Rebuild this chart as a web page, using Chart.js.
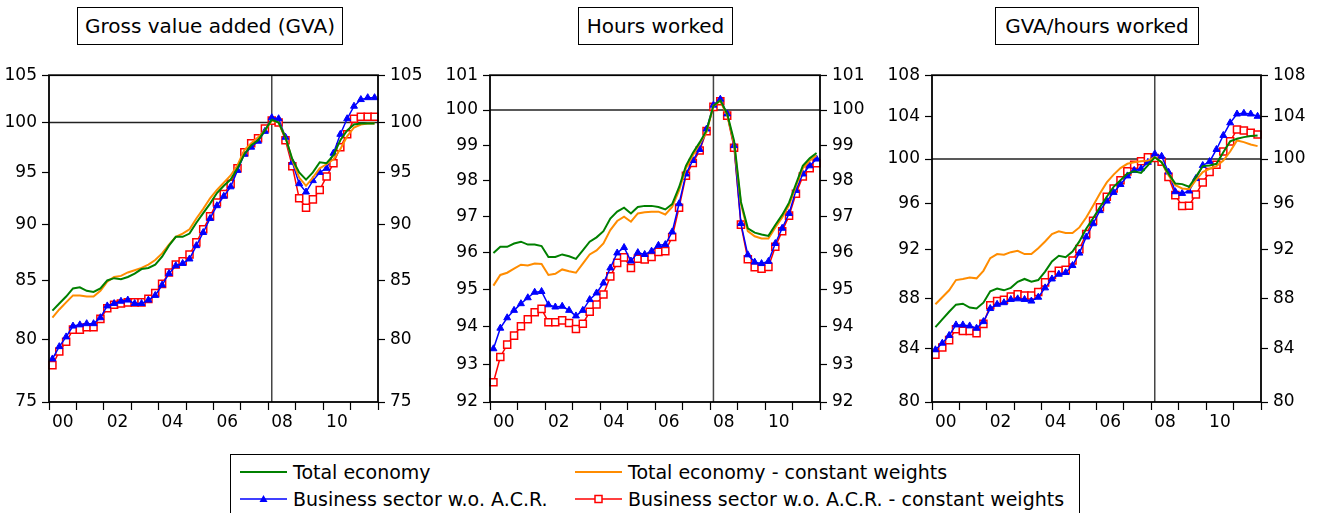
<!DOCTYPE html>
<html>
<head>
<meta charset="utf-8">
<script src="https://cdn.jsdelivr.net/npm/chart.js@4.4.1/dist/chart.umd.min.js"></script>
<style>
  body { margin: 0; background: #fff; font-family: "DejaVu Sans", sans-serif; color: #000; }
  #wrap { position: relative; width: 1319px; height: 513px; overflow: hidden; }
  canvas { position: absolute; top: 60px; }
  .title { position: absolute; top: 7px; height: 38px; box-sizing: border-box; border: 1px solid #000;
           font-size: 20px; line-height: 36px; text-align: center; white-space: nowrap; }
  #legend { position: absolute; left: 230px; top: 454px; width: 850px; height: 80px;
            box-sizing: border-box; border: 1px solid #000; }
  .item { position: absolute; height: 26px; font-size: 19px; line-height: 26px; white-space: nowrap; }
  .item svg { position: absolute; left: 0; top: 3px; }
  .item span { position: absolute; left: 53px; top: 0; }
</style>
</head>
<body>
<div id="wrap">
  <div class="title" style="left:77px;width:266px">Gross value added (GVA)</div>
  <div class="title" style="left:578px;width:155px">Hours worked</div>
  <div class="title" style="left:995px;width:204px">GVA/hours worked</div>
  <canvas id="gva" width="430" height="380" style="left:0px"></canvas>
  <canvas id="hours" width="430" height="380" style="left:440px"></canvas>
  <canvas id="prod" width="430" height="380" style="left:880px"></canvas>
  <div id="legend">
    <div class="item" style="left:9px;top:4px">
      <svg width="48" height="20"><line x1="0" y1="10" x2="47" y2="10" stroke="#008000" stroke-width="2"/></svg>
      <span>Total economy</span>
    </div>
    <div class="item" style="left:344px;top:4px">
      <svg width="48" height="20"><line x1="0" y1="10" x2="47" y2="10" stroke="#ff8c00" stroke-width="2"/></svg>
      <span>Total economy - constant weights</span>
    </div>
    <div class="item" style="left:9px;top:31px">
      <svg width="48" height="20"><line x1="0" y1="10" x2="47" y2="10" stroke="#0000ff" stroke-width="1.5"/>
        <polygon points="23.5,6 27.5,13 19.5,13" fill="#0000ff"/></svg>
      <span>Business sector w.o. A.C.R.</span>
    </div>
    <div class="item" style="left:344px;top:31px">
      <svg width="48" height="20"><line x1="0" y1="10" x2="47" y2="10" stroke="#ff0000" stroke-width="1.5"/>
        <rect x="20" y="6.5" width="7" height="7" fill="#fff" stroke="#ff0000" stroke-width="1.5"/></svg>
      <span>Business sector w.o. A.C.R. - constant weights</span>
    </div>
  </div>
</div>
<script>
// quarterly, 2000Q1 - 2011Q4
const years = [2000, 2001, 2002, 2003, 2004, 2005, 2006, 2007, 2008, 2009, 2010, 2011]
const quarters = []
years.forEach(y => { for (let q = 1; q <= 4; q++) quarters.push(y + "Q" + q) })
const xTickLabels = ["00", "02", "04", "06", "08", "10"]
const refQuarter = "2008Q1"

// Gross value added
const gvaTotal = [82.4, 83.0, 83.6, 84.3, 84.4, 84.1, 84.0, 84.3, 85.0, 85.2, 85.1, 85.3, 85.6, 86.0, 86.1, 86.4,
  87.1, 88.1, 88.9, 88.9, 89.2, 90.2, 91.1, 92.0, 93.0, 93.7, 94.3, 95.4, 96.8, 97.7, 98.2, 99.2,
  100.3, 100.0, 98.5, 96.3, 95.0, 94.3, 95.0, 96.0, 95.9, 96.7, 98.2, 99.2, 99.8, 99.9, 99.9, 99.9]
const gvaTotalCW = [81.8, 82.5, 83.1, 83.7, 83.7, 83.6, 83.6, 84.1, 84.9, 85.3, 85.4, 85.7, 85.9, 86.1, 86.4, 86.8,
  87.4, 88.2, 88.9, 89.2, 89.6, 90.6, 91.5, 92.5, 93.3, 94.0, 94.7, 95.7, 97.2, 97.9, 98.5, 99.2,
  100.2, 100.0, 98.5, 96.2, 94.5, 93.7, 94.5, 95.4, 95.8, 96.3, 97.3, 98.6, 99.5, 99.8, 99.9, 99.9]
const gvaBusiness = [78.4, 79.4, 80.2, 81.1, 81.2, 81.3, 81.3, 81.8, 82.8, 83.0, 83.2, 83.3, 83.0, 83.0, 83.3, 83.7,
  84.6, 85.6, 86.3, 86.5, 86.9, 88.1, 89.3, 90.6, 91.8, 92.7, 93.6, 95.2, 96.8, 97.5, 98.1, 99.1,
  100.5, 100.4, 98.5, 96.0, 93.9, 93.1, 94.2, 95.0, 95.4, 96.9, 98.8, 100.4, 101.7, 102.4, 102.6, 102.6]
const gvaBusinessCW = [77.9, 79.0, 79.8, 80.8, 80.8, 81.0, 81.0, 81.7, 82.6, 82.9, 83.0, 83.1, 83.1, 83.1, 83.4, 83.9,
  84.7, 85.7, 86.4, 86.7, 87.3, 88.4, 89.6, 90.8, 92.1, 92.9, 93.9, 95.4, 97.0, 97.9, 98.4, 99.4,
  100.2, 100.0, 98.2, 95.6, 92.5, 91.6, 92.4, 93.3, 94.6, 95.9, 97.5, 98.8, 100.4, 100.6, 100.6, 100.6]
const gvaTicks = [75, 80, 85, 90, 95, 100, 105]

// Hours worked
const hoursTotal = [96.00, 96.17, 96.17, 96.26, 96.31, 96.23, 96.23, 96.19, 95.89, 95.89, 95.96, 95.91, 95.84, 96.07, 96.31, 96.43,
  96.60, 96.95, 97.14, 97.25, 97.09, 97.27, 97.30, 97.30, 97.27, 97.20, 97.35, 97.82, 98.42, 98.78, 99.08, 99.42,
  100.12, 100.28, 99.89, 99.13, 97.41, 96.68, 96.56, 96.51, 96.47, 96.77, 97.05, 97.39, 97.91, 98.42, 98.63, 98.78]
const hoursTotalCW = [95.11, 95.40, 95.46, 95.57, 95.68, 95.66, 95.71, 95.70, 95.40, 95.43, 95.55, 95.50, 95.46, 95.71, 95.96, 96.07,
  96.26, 96.63, 96.88, 97.00, 96.86, 97.09, 97.12, 97.14, 97.14, 97.06, 97.27, 97.73, 98.35, 98.71, 99.04, 99.37,
  100.12, 100.26, 99.86, 99.04, 97.36, 96.60, 96.46, 96.40, 96.40, 96.70, 96.98, 97.32, 97.85, 98.35, 98.56, 98.71]
const hoursBusiness = [93.41, 93.96, 94.24, 94.44, 94.62, 94.78, 94.93, 94.95, 94.59, 94.53, 94.55, 94.44, 94.29, 94.44, 94.73, 94.91,
  95.18, 95.59, 96.00, 96.15, 95.78, 96.01, 95.96, 96.05, 96.21, 96.23, 96.58, 97.36, 98.19, 98.57, 98.88, 99.46,
  100.14, 100.31, 99.89, 98.99, 96.81, 95.95, 95.75, 95.71, 95.77, 96.26, 96.68, 97.09, 97.73, 98.19, 98.42, 98.61]
const hoursBusinessCW = [92.52, 93.19, 93.52, 93.76, 94.01, 94.20, 94.39, 94.48, 94.12, 94.12, 94.17, 94.10, 93.94, 94.08, 94.40, 94.60,
  94.87, 95.36, 95.73, 95.88, 95.59, 95.84, 95.82, 95.89, 96.03, 96.05, 96.44, 97.25, 98.14, 98.50, 98.85, 99.40,
  100.09, 100.25, 99.84, 98.93, 96.78, 95.83, 95.61, 95.57, 95.62, 96.17, 96.60, 97.03, 97.64, 98.12, 98.35, 98.49]
const hoursTicks = [92, 93, 94, 95, 96, 97, 98, 99, 100, 101]

// GVA per hour worked
const prodTotal = [85.69, 86.31, 86.91, 87.48, 87.56, 87.25, 87.17, 87.64, 88.56, 88.78, 88.64, 88.84, 89.34, 89.57, 89.34, 89.48,
  90.18, 91.02, 91.50, 91.38, 91.86, 92.71, 93.80, 94.71, 95.66, 96.59, 97.48, 98.07, 98.67, 98.87, 98.73, 99.41,
  100.16, 99.70, 98.67, 97.78, 97.72, 97.48, 98.37, 99.35, 99.41, 99.56, 100.63, 101.63, 101.88, 102.03, 102.13, 102.19]
const prodTotalCW = [87.51, 88.08, 88.64, 89.48, 89.57, 89.68, 89.62, 90.24, 91.30, 91.64, 91.58, 91.80, 91.92, 91.64, 91.64, 92.14,
  92.71, 93.34, 93.57, 93.43, 93.43, 93.91, 94.77, 95.80, 96.89, 97.87, 98.58, 99.17, 99.56, 99.70, 99.79, 99.85,
  100.16, 99.70, 98.52, 97.63, 97.33, 97.27, 98.07, 98.81, 99.11, 99.35, 99.85, 100.69, 101.72, 101.56, 101.34, 101.19]
const prodBusiness = [83.93, 84.44, 85.04, 85.87, 85.87, 85.79, 85.61, 86.13, 87.17, 87.51, 87.64, 87.90, 87.95, 87.90, 87.77, 88.08,
  88.84, 89.57, 89.96, 90.10, 90.68, 91.72, 93.09, 94.23, 95.37, 96.21, 96.98, 97.69, 98.46, 98.96, 99.11, 99.70,
  100.47, 100.25, 98.81, 97.04, 96.89, 97.10, 98.22, 99.41, 99.76, 100.88, 102.19, 103.38, 104.22, 104.29, 104.22, 104.00]
const prodBusinessCW = [83.55, 84.10, 84.68, 85.53, 85.40, 85.40, 85.22, 85.95, 87.43, 87.77, 87.87, 88.14, 88.31, 88.22, 88.22, 88.50,
  89.29, 89.90, 90.24, 90.32, 91.10, 92.06, 93.34, 94.49, 95.66, 96.59, 97.33, 98.07, 98.87, 99.47, 99.79, 100.16,
  100.09, 99.76, 98.37, 96.74, 95.77, 95.80, 96.80, 97.87, 98.81, 99.47, 100.69, 101.63, 102.75, 102.66, 102.44, 102.28]
const prodTicks = [80, 84, 88, 92, 96, 100, 104, 108]

Chart.defaults.font.family = "'DejaVu Sans', sans-serif"
Chart.defaults.font.size = 17
Chart.defaults.color = "#000"

// frame, line at 100 and vertical line at 2008Q1
const refLines = {
  id: "refLines",
  beforeDatasetsDraw(chart) {
    const { ctx, chartArea: a, scales } = chart
    const y = scales.y.getPixelForValue(100)
    const x = scales.x.getPixelForValue(quarters.indexOf(refQuarter))
    ctx.save()
    ctx.strokeStyle = "#222"
    ctx.lineWidth = 1.5
    ctx.beginPath()
    ctx.moveTo(a.left, y)
    ctx.lineTo(a.right, y)
    ctx.stroke()
    ctx.strokeStyle = "#444"
    ctx.lineWidth = 1.5
    ctx.beginPath()
    ctx.moveTo(x, a.top)
    ctx.lineTo(x, a.bottom)
    ctx.stroke()
    ctx.restore()
  },
  afterDraw(chart) {
    const { ctx, chartArea: a } = chart
    ctx.save()
    ctx.strokeStyle = "#000"
    ctx.lineWidth = 1.8
    ctx.strokeRect(a.left, a.top, a.right - a.left, a.bottom - a.top)
    ctx.restore()
  },
}

function yAxis(position, ticks, width) {
  return {
    type: "logarithmic",
    position: position,
    min: ticks[0],
    max: ticks[ticks.length - 1],
    afterBuildTicks: (scale) => { scale.ticks = ticks.map(v => ({ value: v })) },
    afterFit: (scale) => { scale.width = width },
    border: { display: false },
    grid: { drawOnChartArea: false, tickLength: 7, tickColor: "#000", tickWidth: 1.2 },
    ticks: { padding: 5, callback: (v) => String(v) },
  }
}

function makePanel(id, series, ticks, leftW, rightW) {
  new Chart(document.getElementById(id), {
    type: "line",
    data: {
      labels: quarters,
      datasets: [
        { label: "Total economy", data: series[0], borderColor: "#008000", borderWidth: 2, pointRadius: 0 },
        { label: "Total economy - constant weights", data: series[1], borderColor: "#ff8c00", borderWidth: 2, pointRadius: 0 },
        {
          label: "Business sector w.o. A.C.R.", data: series[2], borderColor: "#0000ff", borderWidth: 1.5,
          pointStyle: "triangle", pointRadius: 4, pointBackgroundColor: "#0000ff", pointBorderColor: "#0000ff", pointBorderWidth: 1,
        },
        {
          label: "Business sector w.o. A.C.R. - constant weights", data: series[3], borderColor: "#ff0000", borderWidth: 1.5,
          pointStyle: "rect", pointRadius: 5, pointBackgroundColor: "#fff", pointBorderColor: "#ff0000", pointBorderWidth: 1.5,
        },
      ],
    },
    options: {
      responsive: false,
      animation: false,
      layout: { padding: { top: 12, left: 0, right: 0, bottom: 0 } },
      elements: { line: { tension: 0 } },
      scales: {
        x: {
          type: "category",
          offset: true,
          afterFit: (scale) => { scale.height = 38 },
          border: { display: false },
          grid: {
            offset: true,
            drawOnChartArea: false,
            tickLength: 8,
            tickWidth: 1.2,
            tickColor: (ctx) => (ctx.index === undefined || ctx.index % 4 === 0 ? "#000" : "rgba(0,0,0,0)"),
          },
          ticks: {
            autoSkip: false,
            maxRotation: 0,
            minRotation: 0,
            padding: 2,
            labelOffset: -3.4,
            callback: (v, i) => (i % 8 === 2 ? xTickLabels[(i - 2) / 8] : ""),
          },
        },
        y: yAxis("left", ticks, leftW),
        y2: yAxis("right", ticks, rightW),
      },
      plugins: { legend: { display: false }, tooltip: { enabled: false } },
    },
    plugins: [refLines],
  })
}

makePanel("gva", [gvaTotal, gvaTotalCW, gvaBusiness, gvaBusinessCW], gvaTicks, 49, 52)
makePanel("hours", [hoursTotal, hoursTotalCW, hoursBusiness, hoursBusinessCW], hoursTicks, 50, 50)
makePanel("prod", [prodTotal, prodTotalCW, prodBusiness, prodBusinessCW], prodTicks, 52, 49)
</script>
</body>
</html>
